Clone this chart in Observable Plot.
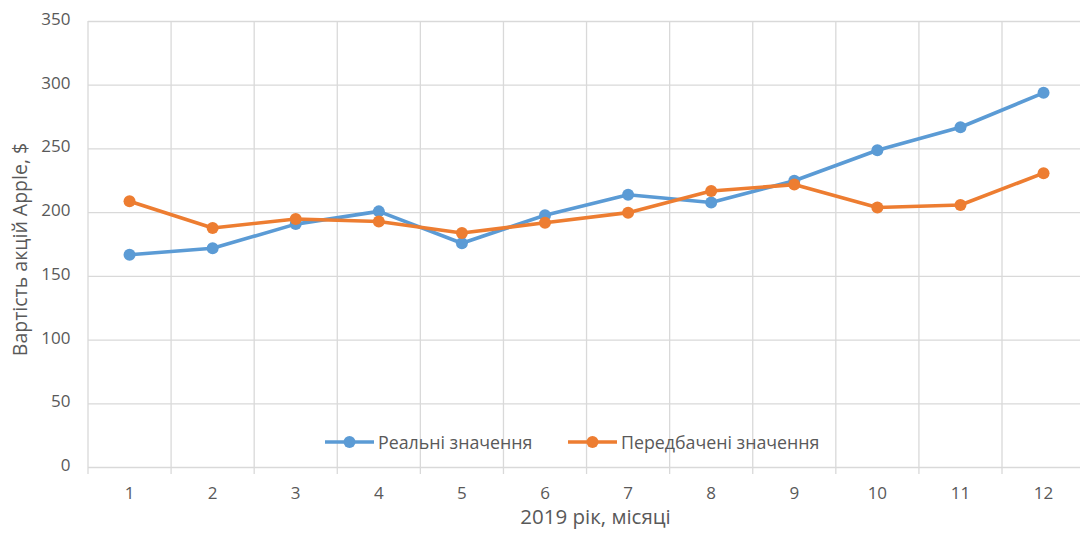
<!DOCTYPE html>
<html><head><meta charset="utf-8">
<script src="https://cdn.jsdelivr.net/npm/d3@7"></script>
<script src="https://cdn.jsdelivr.net/npm/@observablehq/plot@0.6"></script>
<style>
body{margin:0;background:#fff;overflow:hidden}
#wrap{position:relative;width:1080px;height:536px;overflow:hidden}
.leg{position:absolute;top:430px;height:24px;display:flex;align-items:center;font-family:"Open Sans";font-size:17.8px;color:#595959;white-space:nowrap}
.leg svg{margin-right:4px}
</style></head><body><div id="wrap"></div>
<script>
const months = [1,2,3,4,5,6,7,8,9,10,11,12];
const real = [167, 172, 191, 201, 176, 198, 214, 208, 225, 249, 267, 294];
const predicted = [209, 188, 195, 193, 184, 192, 200, 217, 222, 204, 206, 231];
const yTicks = [0, 50, 100, 150, 200, 250, 300, 350];
const seriesNames = ["Реальні значення", "Передбачені значення"];
const colors = ["#5B9BD5", "#ED7D31"];
const yTitle = "Вартість акцій Apple, $";
const xTitle = "2019 рік, місяці";

const data = months.flatMap((m, i) => [
  {month: m, value: real[i], series: seriesNames[0]},
  {month: m, value: predicted[i], series: seriesNames[1]}
]);
const bounds = [...months.map(m => m - 0.5), months[months.length - 1] + 0.5];

const plot = Plot.plot({
  width: 1080, height: 536,
  marginTop: 21, marginBottom: 69, marginLeft: 88, marginRight: 0,
  style: {fontFamily: "Open Sans", fontSize: "17px", color: "#595959", background: "#fff"},
  x: {domain: [0.5, 12.5], range: [87.5, 1084.6]},
  y: {domain: [0, 350]},
  color: {domain: seriesNames, range: colors},
  marks: [
    Plot.ruleY(yTicks, {stroke: "#d9d9d9", strokeWidth: 1.3}),
    Plot.ruleX(bounds, {y1: 0, y2: 350, stroke: "#d9d9d9", strokeWidth: 1.3}),
    Plot.ruleX(bounds, {y1: 0, y2: -5.5, stroke: "#d9d9d9", strokeWidth: 1.3}),
    Plot.axisY(yTicks, {tickSize: 0, tickPadding: 18, label: null, dy: -2, fill: "#595959"}),
    Plot.axisX(months, {tickSize: 0, tickPadding: 19, label: null, fill: "#595959"}),
    Plot.text([yTitle], {frameAnchor: "left", textAnchor: "middle", rotate: -90, dx: -68, dy: 5, fontSize: 19.5, fill: "#595959"}),
    Plot.text([xTitle], {frameAnchor: "bottom", dy: 56, dx: 11, fontSize: 20.5, fill: "#595959"}),
    Plot.line(data, {x: "month", y: "value", stroke: "series", z: "series", strokeWidth: 3.6}),
    Plot.dot(data, {x: "month", y: "value", fill: "series", r: 6})
  ]
});
const wrap = document.getElementById("wrap");
wrap.appendChild(plot);

const legPos = [325, 568];
seriesNames.forEach((name, i) => {
  const d = document.createElement("div");
  d.className = "leg";
  d.style.left = legPos[i] + "px";
  d.innerHTML = `<svg width="49" height="14"><line x1="0" x2="49" y1="7" y2="7" stroke="${colors[i]}" stroke-width="3.6"/><circle cx="24.5" cy="7" r="6" fill="${colors[i]}"/></svg><span>${name}</span>`;
  wrap.appendChild(d);
});
</script>
</body></html>
